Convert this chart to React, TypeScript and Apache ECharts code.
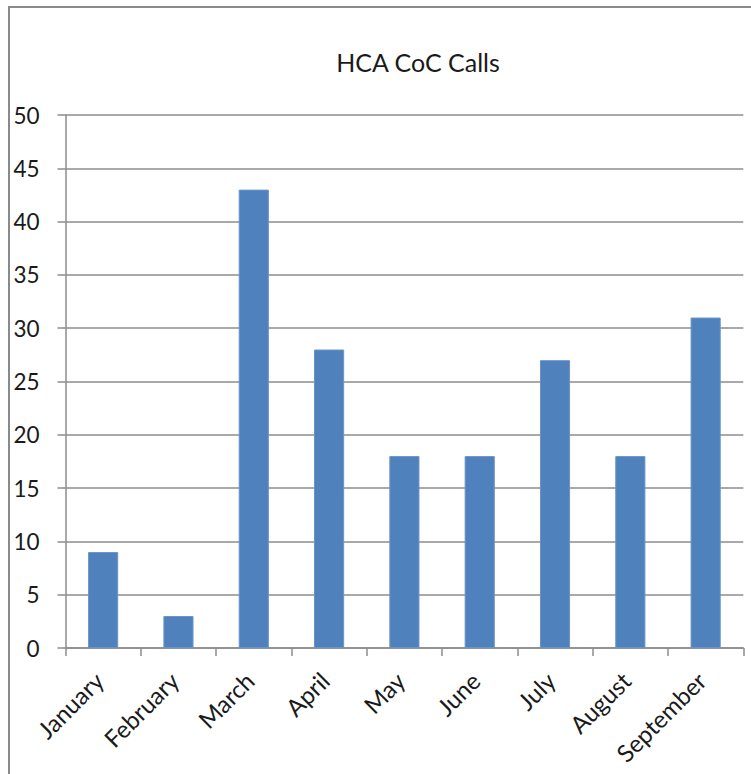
import React, { useEffect, useRef } from "react";
import * as echarts from "echarts";

const title = "HCA CoC Calls";
const months = ["January", "February", "March", "April", "May", "June", "July", "August", "September"];
const calls = [9, 3, 43, 28, 18, 18, 27, 18, 31];

export default function App() {
  const ref = useRef<HTMLDivElement>(null);
  useEffect(() => {
    const chart = echarts.init(ref.current!, null, { renderer: "svg" });
    const font = "Lato";
    chart.setOption({
      animation: false,
      backgroundColor: "#ffffff",
      title: {
        text: title,
        left: 413,
        textAlign: "center",
        top: 44,
        textStyle: { fontFamily: font, fontSize: 25, fontWeight: "normal", color: "#1a1a1a" },
      },
      graphic: [
        {
          type: "rect",
          shape: { x: 9, y: 7, width: 900, height: 900 },
          style: { fill: "none", stroke: "#8a8a8a", lineWidth: 2 },
          silent: true,
        },
      ],
      grid: { left: 65.5, right: 7.7, top: 115, bottom: 126 },
      xAxis: {
        type: "category",
        data: months,
        boundaryGap: true,
        axisLine: { lineStyle: { color: "#8c8c8c", width: 1.5 } },
        axisTick: { show: true, length: 8, interval: 0, alignWithLabel: false, lineStyle: { color: "#8c8c8c", width: 1.5 } },
        axisLabel: {
          interval: 0,
          rotate: 45,
          margin: 24,
          padding: [0, 6, 0, 0],
          fontFamily: font,
          fontSize: 24,
          color: "#1a1a1a",
        },
      },
      yAxis: {
        type: "value",
        min: 0,
        max: 50,
        interval: 5,
        axisLine: { show: true, lineStyle: { color: "#8c8c8c", width: 1.5 } },
        axisTick: { show: true, length: 8, lineStyle: { color: "#8c8c8c", width: 1.5 } },
        splitLine: { lineStyle: { color: "#8c8c8c", width: 1.5 } },
        axisLabel: { margin: 26, fontFamily: font, fontSize: 22.5, color: "#1a1a1a" },
      },
      series: [
        {
          type: "bar",
          data: calls,
          barWidth: "40%",
          itemStyle: { color: "#4f81bd", borderColor: "#6a93c8", borderWidth: 1 },
        },
      ],
    });
    return () => chart.dispose();
  }, []);
  return (
    <div
      ref={ref}
      style={{ position: "absolute", left: 0, top: 0, width: 751, height: 774 }}
    />
  );
}
